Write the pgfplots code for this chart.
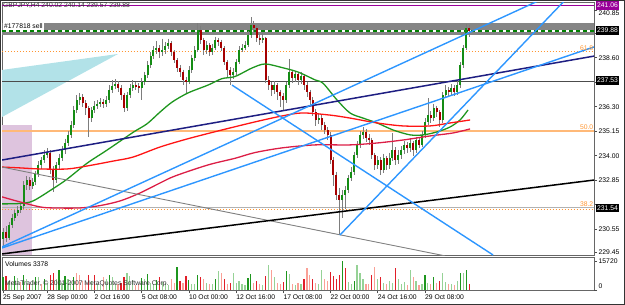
\documentclass[border=0pt]{standalone}
\usepackage{fontspec}
\setmainfont{Liberation Sans}
\usepackage{pgfplots}
\usepackage{pgfplotstable}
\pgfplotsset{compat=1.18}
\definecolor{upc}{RGB}{20,140,20}
\definecolor{dnc}{RGB}{165,0,0}
\definecolor{wick}{RGB}{125,125,125}
\definecolor{mag}{RGB}{153,0,153}
\definecolor{dblue}{RGB}{45,150,255}
\definecolor{navyc}{RGB}{30,30,130}
\definecolor{maG}{RGB}{30,150,30}
\definecolor{maR}{RGB}{255,20,20}
\definecolor{maC}{RGB}{220,30,70}
\definecolor{fibo}{RGB}{255,150,50}
\definecolor{fibol}{RGB}{255,185,120}
\definecolor{thistl}{RGB}{222,196,222}
\definecolor{cyanf}{RGB}{178,226,232}
\definecolor{vg}{RGB}{30,150,30}
\definecolor{vlg}{RGB}{150,210,150}
\definecolor{vr}{RGB}{225,30,40}
\definecolor{vlr}{RGB}{250,160,150}

\pgfplotstableread{
i o h l c
0 230.10 230.60 229.72 230.42
1 230.42 230.70 229.95 230.14
2 230.14 230.90 230.05 230.75
3 230.75 231.25 230.60 231.08
4 231.08 231.45 230.95 231.31
5 231.31 231.65 231.15 231.46
6 231.46 231.80 231.30 231.64
7 231.64 232.80 231.50 232.63
8 232.63 233.05 232.40 232.86
9 232.86 233.00 232.40 232.58
10 232.58 232.95 232.45 232.77
11 232.77 233.30 232.65 233.14
12 233.14 233.75 233.00 233.57
13 233.57 233.95 233.40 233.80
14 233.80 234.25 233.65 234.04
15 234.04 234.35 233.90 234.13
16 234.13 234.25 233.15 233.33
17 233.33 233.50 232.30 232.86
18 232.86 233.70 232.70 233.57
19 233.57 234.10 233.40 233.90
20 233.90 234.45 233.75 234.27
21 234.27 234.80 234.10 234.60
22 234.60 235.15 234.45 234.98
23 234.98 235.65 234.85 235.45
24 235.45 236.35 235.30 236.15
25 236.15 236.85 236.00 236.62
26 236.62 236.95 236.40 236.76
27 236.76 236.90 236.30 236.48
28 236.48 236.60 235.90 236.24
29 236.24 236.35 234.88 235.77
30 235.77 236.30 235.60 236.15
31 236.15 236.55 236.00 236.34
32 236.34 236.60 236.20 236.43
33 236.43 236.70 236.30 236.52
34 236.52 236.65 236.25 236.43
35 236.43 236.80 236.30 236.62
36 236.62 237.30 236.50 237.09
37 237.09 237.55 236.95 237.28
38 237.28 237.60 237.15 237.37
39 237.37 237.50 237.00 237.18
40 237.18 237.30 236.62 236.85
41 236.85 236.95 236.05 236.24
42 236.24 237.00 236.10 236.85
43 236.85 237.35 236.70 237.18
44 237.18 237.55 237.05 237.32
45 237.32 237.45 237.10 237.28
46 237.28 237.40 236.95 237.18
47 237.18 237.65 236.62 237.46
48 237.46 237.95 237.30 237.79
49 237.79 238.45 237.65 238.26
50 238.26 238.85 238.10 238.69
51 238.69 239.15 238.55 238.97
52 238.97 239.40 238.80 239.06
53 239.06 239.20 238.60 238.87
54 238.87 239.50 238.70 238.97
55 238.97 239.35 238.80 239.15
56 239.15 239.50 239.00 239.30
57 239.30 239.40 238.70 238.87
58 238.87 238.95 238.35 238.50
59 238.50 238.60 237.95 238.12
60 238.12 238.25 237.70 237.93
61 237.93 238.05 237.30 237.56
62 237.56 237.70 236.95 237.46
63 237.46 238.20 237.35 238.03
64 238.03 238.75 237.90 238.59
65 238.59 239.15 238.45 238.97
66 238.97 240.23 238.85 239.91
67 239.91 240.10 239.25 239.44
68 239.44 239.55 238.75 238.97
69 238.97 239.40 238.80 239.20
70 239.20 239.30 238.70 238.87
71 238.87 239.25 238.75 239.06
72 239.06 239.60 238.95 239.44
73 239.44 239.55 239.15 239.34
74 239.34 239.45 238.90 239.06
75 239.06 239.15 238.25 238.40
76 238.40 238.50 237.70 238.03
77 238.03 238.15 237.32 237.79
78 237.79 238.10 237.60 237.93
79 237.93 238.55 237.80 238.40
80 238.40 239.15 238.30 238.97
81 238.97 239.25 238.85 239.06
82 239.06 239.40 238.95 239.20
83 239.20 239.85 239.10 239.67
84 239.67 240.51 239.55 240.14
85 240.14 240.35 239.80 240.00
86 240.00 240.10 239.35 239.53
87 239.53 239.70 239.20 239.44
88 239.44 239.75 239.30 239.53
89 239.53 239.60 237.40 237.56
90 237.56 237.75 237.10 237.32
91 237.32 237.45 236.80 237.09
92 237.09 237.50 236.90 237.32
93 237.32 237.40 236.60 236.99
94 236.99 237.10 236.30 236.81
95 236.81 236.95 236.15 236.62
96 236.62 237.45 236.50 237.32
97 237.32 238.55 237.20 237.93
98 237.93 238.05 237.40 237.65
99 237.65 238.00 237.45 237.84
100 237.84 237.95 237.30 237.56
101 237.56 237.95 237.35 237.75
102 237.75 237.85 237.10 237.32
103 237.32 237.45 236.75 236.99
104 236.99 237.10 236.40 236.62
105 236.62 236.75 235.85 236.06
106 236.06 236.20 235.40 235.68
107 235.68 236.00 235.50 235.77
108 235.77 235.90 235.20 235.45
109 235.45 235.60 235.00 235.21
110 235.21 235.35 234.75 234.98
111 234.98 235.10 233.60 233.80
112 233.80 233.95 232.60 233.10
113 233.10 233.25 231.90 232.16
114 232.16 232.50 230.28 231.92
115 231.92 232.40 231.10 232.16
116 232.16 232.60 231.50 232.39
117 232.39 233.10 232.25 232.96
118 232.96 233.45 232.80 233.24
119 233.24 234.20 233.10 234.04
120 234.04 234.70 233.90 234.51
121 234.51 235.15 234.35 234.98
122 234.98 235.35 234.80 235.12
123 235.12 235.25 234.65 234.84
124 234.84 235.00 234.50 234.74
125 234.74 234.85 233.85 234.04
126 234.04 234.15 233.35 233.57
127 233.57 234.00 233.40 233.80
128 233.80 233.95 233.10 233.33
129 233.33 234.10 233.20 233.90
130 233.90 234.00 233.35 233.57
131 233.57 234.15 233.40 233.90
132 233.90 235.05 233.75 234.27
133 234.27 234.40 233.55 233.80
134 233.80 234.25 233.60 234.04
135 234.04 234.45 233.85 234.27
136 234.27 234.70 234.10 234.51
137 234.51 234.65 234.15 234.37
138 234.37 234.85 234.20 234.60
139 234.60 234.70 234.00 234.27
140 234.27 234.90 234.15 234.74
141 234.74 234.85 234.35 234.51
142 234.51 235.15 234.40 234.98
143 234.98 235.75 234.85 235.59
144 235.59 236.70 235.45 235.92
145 235.92 236.10 235.55 235.77
146 235.77 236.45 235.65 236.24
147 236.24 236.35 235.80 236.06
148 236.06 236.15 235.35 235.68
149 235.68 237.00 235.55 236.85
150 236.85 237.30 236.70 237.09
151 237.09 237.25 236.80 236.99
152 236.99 237.35 236.85 237.18
153 237.18 237.30 236.80 236.99
154 236.99 237.50 236.85 237.32
155 237.32 238.40 237.20 238.26
156 238.26 239.20 238.10 239.06
157 239.06 240.20 238.95 240.02
158 240.02 240.14 239.57 239.88
}\candles

\pgfplotstableread{
i v k
0 7000 0
1 7500 2
2 5000 1
3 4500 1
4 7800 0
5 6500 1
6 4200 3
7 8000 0
8 6000 1
9 3500 2
10 5500 1
11 7000 0
12 6800 1
13 3000 3
14 5800 0
15 3600 1
16 8200 2
17 9000 2
18 6000 1
19 10700 0
20 4000 1
21 7500 0
22 6000 1
23 4500 1
24 7000 0
25 9400 3
26 8000 3
27 5000 3
28 4200 3
29 8400 2
30 5000 1
31 8400 2
32 3000 1
33 2500 1
34 7000 3
35 6000 1
36 8000 0
37 7000 1
38 3500 1
39 3000 3
40 4000 2
41 7000 2
42 9400 1
43 7500 1
44 5500 1
45 2500 3
46 3000 3
47 6500 0
48 6000 1
49 8500 0
50 4000 1
51 3000 1
52 5500 0
53 7000 2
54 4500 1
55 3800 1
56 2500 1
57 6000 3
58 4000 3
59 12200 0
60 5000 2
61 4000 3
62 7500 2
63 5500 0
64 3000 1
65 3500 1
66 8000 0
67 7000 2
68 6000 3
69 4000 1
70 3000 3
71 3500 1
72 6000 0
73 10300 1
74 9000 3
75 6000 2
76 3500 3
77 4000 2
78 9400 1
79 4000 1
80 5000 1
81 3500 1
82 2500 1
83 6500 0
84 8500 0
85 4000 3
86 5000 2
87 3000 3
88 2500 1
89 7500 2
90 13500 1
91 11000 3
92 7000 1
93 4000 3
94 3500 3
95 4500 2
96 10300 0
97 8500 1
98 3000 3
99 2800 1
100 4000 3
101 3500 1
102 6000 2
103 11800 3
104 8000 3
105 6000 2
106 4000 3
107 3000 1
108 10700 1
109 6000 3
110 5000 3
111 9500 2
112 7500 2
113 6000 2
114 8000 2
115 15720 0
116 12000 2
117 4500 1
118 3500 1
119 5000 0
120 13500 1
121 9000 1
122 6000 1
123 3500 3
124 3000 3
125 8000 2
126 12200 3
127 6000 1
128 7000 2
129 4000 1
130 3000 3
131 5000 1
132 4000 1
133 11800 2
134 6000 1
135 3000 1
136 4500 1
137 2500 3
138 11000 1
139 7000 3
140 5000 1
141 2500 3
142 3500 1
143 8000 0
144 4000 1
145 3000 3
146 7000 0
147 4000 3
148 5000 2
149 9400 1
150 4500 1
151 3000 3
152 3500 1
153 2500 3
154 5000 1
155 9000 0
156 9400 1
157 11000 0
158 3378 2
}\vols

\newcommand{\fs}{\fontsize{6.8}{8}\selectfont}

\begin{document}
\begin{tikzpicture}[font=\fs]
\path[use as bounding box] (0,0) rectangle (625bp,-305bp);
\begin{axis}[at={(2bp,-2bp)}, anchor=north west, scale only axis,
  width=592bp, height=253bp,
  xmin=-0.34, xmax=200.3, ymin=229.34, ymax=241.22,
  xtick=\empty,
  ytick={229.45,230.55,231.70,232.85,234.00,235.15,236.30,237.45,238.60,239.75,240.85},
  yticklabels={229.45,230.55,,232.85,234.00,235.15,236.30,,238.60,,},
  extra y ticks={240.85}, extra y tick labels={240.85},
  extra y tick style={yticklabel style={yshift=-3bp}},
  ytick pos=right, yticklabel pos=right,
  tick align=outside, major tick length=3bp,
  tick style={black!70, line width=0.6bp},
  axis line style={black!60, line width=0.8bp},
  ticklabel style={font=\fs, inner xsep=1.5bp},
  scaled y ticks=false,
  clip mode=individual]
% background objects
\addplot[fill=thistl, draw=none] coordinates {(-0.34,229.34) (9.8,229.34) (9.8,235.45) (-0.34,235.45)} -- cycle;
\addplot[fill=cyanf, draw=none] coordinates {(-0.34,238.03) (39.0,238.78) (-0.34,235.82)} -- cycle;
\addplot[fill=black!48, draw=none] coordinates {(-0.34,239.66) (200.3,239.66) (200.3,240.25) (-0.34,240.25)} -- cycle;
\addplot[white, line width=1.8bp] coordinates {(-0.34,239.86) (200.3,239.86)};
\addplot[green!50!black, line width=1.8bp, dash pattern=on 4bp off 3bp] coordinates {(-0.34,239.86) (200.3,239.86)};
\addplot[mag, line width=1.2bp] coordinates {(-0.34,241.06) (200.3,241.06)};
\addplot[fibo, dotted, line width=1bp] coordinates {(-0.34,238.89) (200.3,238.89)};
\addplot[black!70, line width=0.8bp] coordinates {(-0.34,237.50) (200.3,237.50)};
\addplot[fibol, line width=1.4bp] coordinates {(-0.34,235.16) (200.3,235.16)};
\addplot[gray!60, line width=1.6bp] coordinates {(-0.34,231.57) (200.3,231.57)};
\addplot[fibo, dotted, line width=1bp] coordinates {(-0.34,231.47) (200.3,231.47)};
% candles
\addplot[draw=none, error bars/.cd, y dir=minus, y explicit, error mark=none,
  error bar style={draw=wick, line width=0.7bp}]
  table[x=i, y=h, y error expr=\thisrow{h}-\thisrow{l}] {\candles};
\addplot[draw=none, restrict expr to domain={\thisrow{c}-\thisrow{o}}{0:100},
  error bars/.cd, y dir=both, y explicit, error mark=none,
  error bar style={draw=upc, line width=2bp}]
  table[x=i, y expr=(\thisrow{o}+\thisrow{c})/2, y error expr=abs(\thisrow{c}-\thisrow{o})/2] {\candles};
\addplot[draw=none, restrict expr to domain={\thisrow{c}-\thisrow{o}}{-100:-0.001},
  error bars/.cd, y dir=both, y explicit, error mark=none,
  error bar style={draw=dnc, line width=2bp}]
  table[x=i, y expr=(\thisrow{o}+\thisrow{c})/2, y error expr=abs(\thisrow{c}-\thisrow{o})/2] {\candles};
% moving averages
\addplot[maG, line width=1.3bp, smooth] coordinates {(-0.34,231.74) (5.8,231.76) (10.2,231.88) (16.9,232.45) (21.7,232.90) (28.5,233.65) (35.3,234.27) (44.1,235.10) (48.8,235.50) (53.2,236.05) (57.3,236.52) (62.7,236.95) (69.5,237.32) (74.2,237.62) (78.6,237.72) (84.4,238.12) (88.8,238.31) (94.6,238.14) (100.0,237.93) (105.8,237.56) (108.5,237.40) (113.2,236.62) (117.6,236.01) (122.0,235.77) (126.8,235.54) (132.2,235.21) (138.0,234.98) (142.4,234.98) (147.1,235.12) (151.5,235.35) (154.9,235.68) (157.6,236.15)};
\addplot[maR, line width=1.3bp, smooth] coordinates {(-0.34,233.47) (5.8,233.43) (12.5,233.38) (21.7,233.38) (28.5,233.52) (37.3,233.75) (44.1,233.94) (53.2,234.41) (62.7,234.80) (74.2,235.21) (85.4,235.59) (94.6,235.87) (101.4,236.01) (110.8,235.91) (117.6,235.77) (126.8,235.54) (135.6,235.40) (144.7,235.40) (151.5,235.54) (158.3,235.68)};
\addplot[maC, line width=1.3bp, smooth] coordinates {(-0.34,232.07) (5.8,231.83) (12.5,231.60) (16.9,231.55) (26.1,231.55) (32.9,231.66) (39.7,231.88) (46.4,232.25) (53.2,232.72) (58.3,233.05) (69.5,233.57) (78.6,233.88) (85.4,234.15) (94.6,234.37) (105.8,234.51) (117.6,234.51) (126.8,234.60) (135.6,234.74) (144.7,234.93) (152.5,235.07) (158.3,235.26)};
% trend lines
\addplot[gray, line width=0.9bp] coordinates {(-0.34,233.47) (149.8,229.30)};
\addplot[black, line width=1.5bp] coordinates {(-0.34,229.39) (200.3,232.86)};
\addplot[navyc, line width=1.5bp] coordinates {(-0.34,233.80) (200.3,238.68)};
\addplot[dblue, line width=1.4bp] coordinates {(-0.34,229.72) (182.0,241.31)};
\addplot[dblue, line width=1.4bp] coordinates {(-0.34,229.67) (200.3,239.11)};
\addplot[dblue, line width=1.4bp] coordinates {(114.2,230.28) (190.5,241.31)};
\addplot[dblue, line width=1.4bp] coordinates {(77.6,237.32) (166.1,229.34)};
% texts
\node[anchor=west, text=black!80, inner sep=1bp] at (axis cs:-0.34,241.07) {GBPJPY,H4 240.02 240.14 239.57 239.88};
\node[anchor=west, fill=white, text=black, inner sep=1bp, xshift=1bp] at (axis cs:-0.34,240.07) {\#177818 sell};
\node[anchor=south east, text=fibo, inner sep=0.6bp] at (axis cs:200.3,238.89) {61.8};
\node[anchor=south east, text=fibo, inner sep=0.6bp] at (axis cs:200.3,235.18) {50.0};
\node[anchor=south east, text=fibo, inner sep=0.6bp] at (axis cs:200.3,231.60) {38.2};
\node[anchor=west, fill=mag, text=white, inner xsep=1.5bp, inner ysep=1bp, text height=5bp, text depth=1.3bp, xshift=1.5bp] at (axis cs:200.3,241.06) {241.06};
\node[anchor=west, fill=black, text=white, inner xsep=1.5bp, inner ysep=1bp, text height=5bp, text depth=1.3bp, xshift=1.5bp] at (axis cs:200.3,239.88) {239.88};
\node[anchor=west, fill=black, text=white, inner xsep=1.5bp, inner ysep=1bp, text height=5bp, text depth=1.3bp, xshift=1.5bp] at (axis cs:200.3,237.53) {237.53};
\node[anchor=west, fill=black, text=white, inner xsep=1.5bp, inner ysep=1bp, text height=5bp, text depth=1.3bp, xshift=1.5bp] at (axis cs:200.3,231.54) {231.54};
\end{axis}

\begin{axis}[at={(2bp,-257bp)}, anchor=north west, scale only axis,
  width=592bp, height=33bp,
  xmin=-0.34, xmax=200.3, ymin=0, ymax=17890,
  xtick={0,15,31,47,63,79,95,111,127,143},
  xticklabels={25 Sep 2007,28 Sep 00:00,2 Oct 16:00,5 Oct 08:00,10 Oct 00:00,12 Oct 16:00,17 Oct 08:00,22 Oct 00:00,24 Oct 16:00,29 Oct 08:00},
  xtick pos=left, ytick pos=right, yticklabel pos=right,
  ytick={15720}, yticklabels={15720},
  extra y ticks={0}, extra y tick labels={0},
  extra y tick style={yticklabel style={yshift=4bp}},
  scaled y ticks=false,
  tick align=outside, major tick length=3bp,
  tick style={black!70, line width=0.6bp},
  axis line style={black!60, line width=0.8bp},
  ticklabel style={font=\fs, inner xsep=1.5bp},
  xticklabel style={anchor=north west, xshift=-1.5bp, yshift=2bp},
  clip mode=individual]
\addplot[ycomb, vg, line width=1.2bp, restrict expr to domain={\thisrow{k}}{0:0}] table[x=i, y=v] {\vols};
\addplot[ycomb, vlg, line width=1.2bp, restrict expr to domain={\thisrow{k}}{1:1}] table[x=i, y=v] {\vols};
\addplot[ycomb, vr, line width=1.2bp, restrict expr to domain={\thisrow{k}}{2:2}] table[x=i, y=v] {\vols};
\addplot[ycomb, vlr, line width=1.2bp, restrict expr to domain={\thisrow{k}}{3:3}] table[x=i, y=v] {\vols};
\node[anchor=north west, inner sep=1bp, xshift=2bp, yshift=-3bp] at (rel axis cs:0,1) {Volumes 3378};
\node[anchor=south west, inner sep=1bp, xshift=2bp, yshift=1.5bp, text=black!80] at (rel axis cs:0,0) {MetaTrader, © 2001-2007 MetaQuotes Software Corp.};
\end{axis}
\draw[black!80, line width=1bp] (0.5bp,-0.5bp) rectangle (624.5bp,-304.5bp);
\end{tikzpicture}
\end{document}
